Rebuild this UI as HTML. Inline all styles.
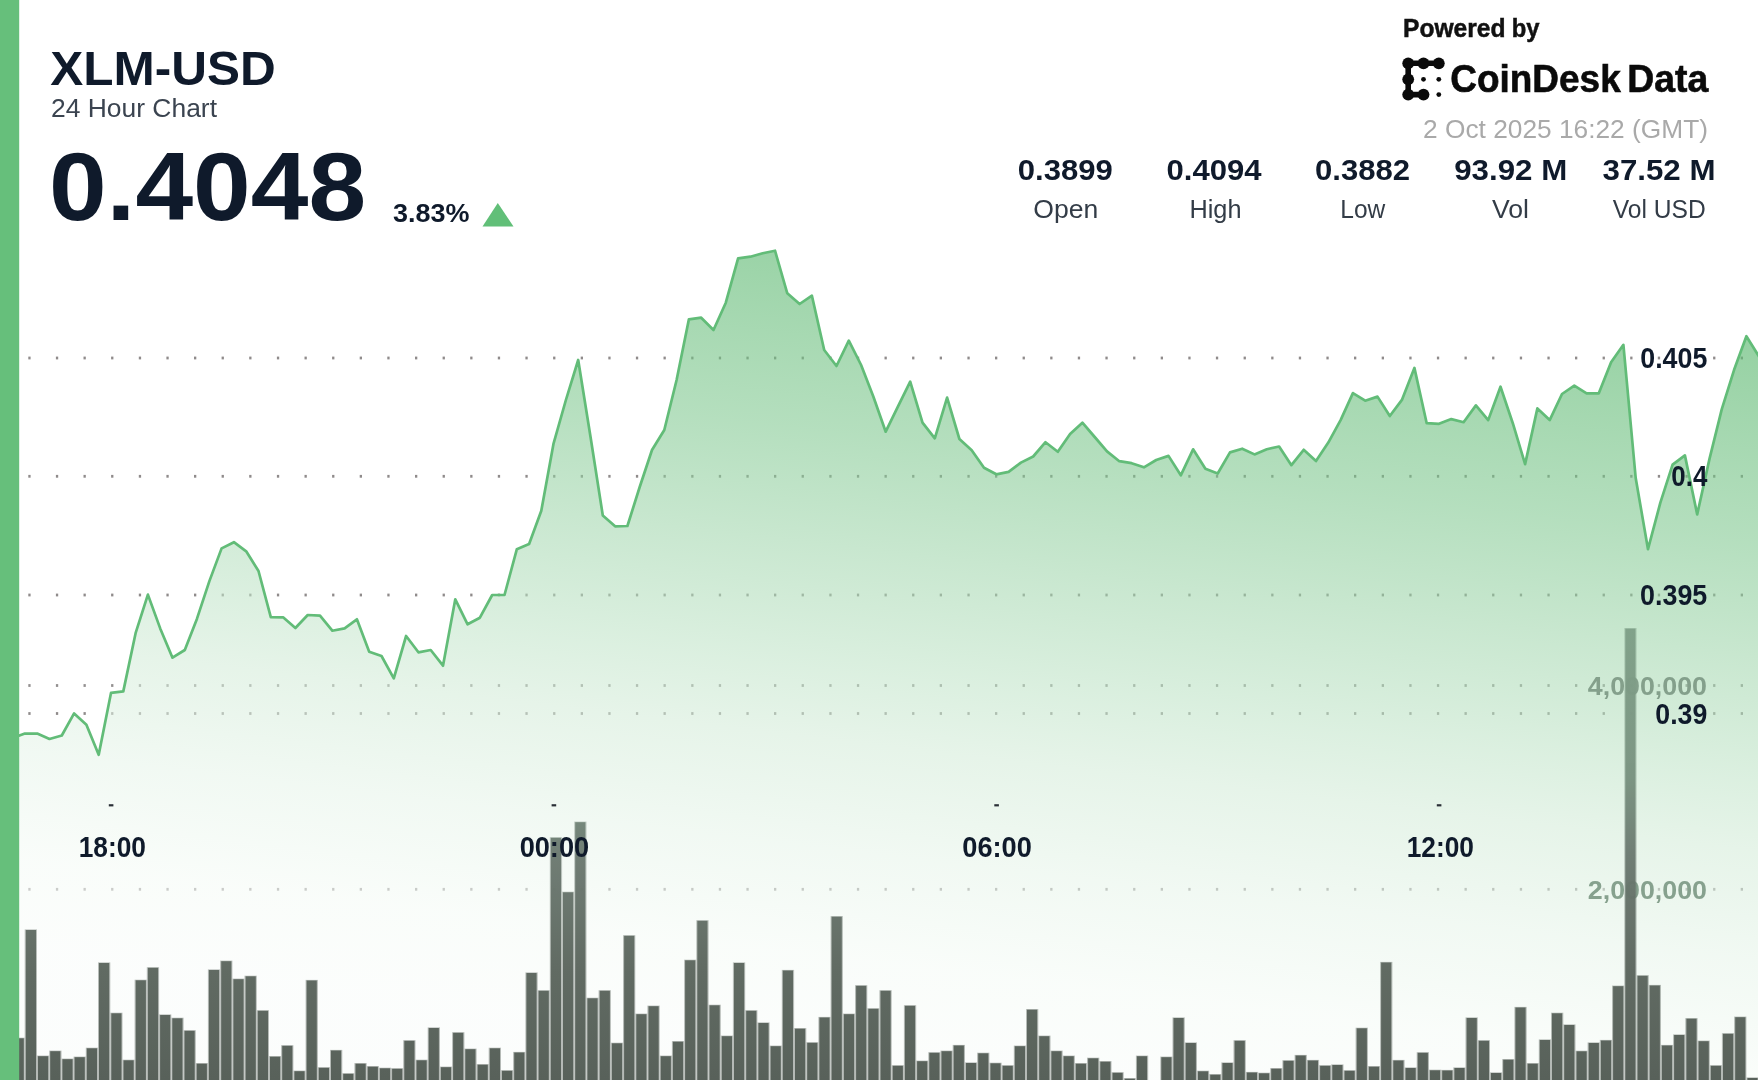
<!DOCTYPE html>
<html lang="en"><head><meta charset="utf-8"><title>XLM-USD 24 Hour Chart</title>
<style>
html,body{margin:0;padding:0;background:#fff;}
body{width:1758px;height:1080px;overflow:hidden;position:relative;font-family:"Liberation Sans","DejaVu Sans",sans-serif;}
svg{position:absolute;left:-20px;top:-20px;display:block;filter:blur(0.75px);}
svg text{font-family:"Liberation Sans","DejaVu Sans",sans-serif;}
</style></head><body>
<svg width="1798" height="1120" viewBox="-20 -20 1798 1120">
<defs>
<linearGradient id="ag" gradientUnits="userSpaceOnUse" x1="1190" y1="250" x2="1090.6" y2="1078.1">
<stop offset="0.000" stop-color="#5cb870" stop-opacity="0.67"/>
<stop offset="0.262" stop-color="#79c58a" stop-opacity="0.56"/>
<stop offset="0.411" stop-color="#9fd5ab" stop-opacity="0.56"/>
<stop offset="0.551" stop-color="#c0e4c8" stop-opacity="0.56"/>
<stop offset="0.631" stop-color="#d2ebd7" stop-opacity="0.56"/>
<stop offset="0.761" stop-color="#e6f4e9" stop-opacity="0.56"/>
<stop offset="0.893" stop-color="#f5fbf6" stop-opacity="0.56"/>
<stop offset="1.000" stop-color="#f9fcfa" stop-opacity="0.56"/>
</linearGradient>
<linearGradient id="bg" gradientUnits="userSpaceOnUse" x1="0" y1="628" x2="0" y2="1080">
<stop offset="0" stop-color="#7fa088"/>
<stop offset="0.33" stop-color="#7a9381"/>
<stop offset="0.5" stop-color="#6d7b72"/>
<stop offset="0.75" stop-color="#5d675f"/>
<stop offset="1" stop-color="#545d56"/>
</linearGradient>
</defs>
<rect x="-20" y="-20" width="1798" height="1120" fill="#fff"/>
<g id="volgrid"><g fill="#939090"><rect x="0.7" y="684.1" width="2.3" height="2.8"/><rect x="28.3" y="684.1" width="2.3" height="2.8"/><rect x="55.9" y="684.1" width="2.3" height="2.8"/><rect x="83.5" y="684.1" width="2.3" height="2.8"/><rect x="111.1" y="684.1" width="2.3" height="2.8"/><rect x="138.8" y="684.1" width="2.3" height="2.8"/><rect x="166.4" y="684.1" width="2.3" height="2.8"/><rect x="194" y="684.1" width="2.3" height="2.8"/><rect x="221.6" y="684.1" width="2.3" height="2.8"/><rect x="249.2" y="684.1" width="2.3" height="2.8"/><rect x="276.9" y="684.1" width="2.3" height="2.8"/><rect x="304.5" y="684.1" width="2.3" height="2.8"/><rect x="332.1" y="684.1" width="2.3" height="2.8"/><rect x="359.7" y="684.1" width="2.3" height="2.8"/><rect x="387.3" y="684.1" width="2.3" height="2.8"/><rect x="415" y="684.1" width="2.3" height="2.8"/><rect x="442.6" y="684.1" width="2.3" height="2.8"/><rect x="470.2" y="684.1" width="2.3" height="2.8"/><rect x="497.8" y="684.1" width="2.3" height="2.8"/><rect x="525.4" y="684.1" width="2.3" height="2.8"/><rect x="553.1" y="684.1" width="2.3" height="2.8"/><rect x="580.7" y="684.1" width="2.3" height="2.8"/><rect x="608.3" y="684.1" width="2.3" height="2.8"/><rect x="635.9" y="684.1" width="2.3" height="2.8"/><rect x="663.5" y="684.1" width="2.3" height="2.8"/><rect x="691.2" y="684.1" width="2.3" height="2.8"/><rect x="718.8" y="684.1" width="2.3" height="2.8"/><rect x="746.4" y="684.1" width="2.3" height="2.8"/><rect x="774" y="684.1" width="2.3" height="2.8"/><rect x="801.6" y="684.1" width="2.3" height="2.8"/><rect x="829.3" y="684.1" width="2.3" height="2.8"/><rect x="856.9" y="684.1" width="2.3" height="2.8"/><rect x="884.5" y="684.1" width="2.3" height="2.8"/><rect x="912.1" y="684.1" width="2.3" height="2.8"/><rect x="939.7" y="684.1" width="2.3" height="2.8"/><rect x="967.4" y="684.1" width="2.3" height="2.8"/><rect x="995" y="684.1" width="2.3" height="2.8"/><rect x="1022.6" y="684.1" width="2.3" height="2.8"/><rect x="1050.2" y="684.1" width="2.3" height="2.8"/><rect x="1077.8" y="684.1" width="2.3" height="2.8"/><rect x="1105.4" y="684.1" width="2.3" height="2.8"/><rect x="1133.1" y="684.1" width="2.3" height="2.8"/><rect x="1160.7" y="684.1" width="2.3" height="2.8"/><rect x="1188.3" y="684.1" width="2.3" height="2.8"/><rect x="1215.9" y="684.1" width="2.3" height="2.8"/><rect x="1243.6" y="684.1" width="2.3" height="2.8"/><rect x="1271.2" y="684.1" width="2.3" height="2.8"/><rect x="1298.8" y="684.1" width="2.3" height="2.8"/><rect x="1326.4" y="684.1" width="2.3" height="2.8"/><rect x="1354" y="684.1" width="2.3" height="2.8"/><rect x="1381.7" y="684.1" width="2.3" height="2.8"/><rect x="1409.3" y="684.1" width="2.3" height="2.8"/><rect x="1436.9" y="684.1" width="2.3" height="2.8"/><rect x="1464.5" y="684.1" width="2.3" height="2.8"/><rect x="1492.1" y="684.1" width="2.3" height="2.8"/><rect x="1519.8" y="684.1" width="2.3" height="2.8"/><rect x="1547.4" y="684.1" width="2.3" height="2.8"/><rect x="1575" y="684.1" width="2.3" height="2.8"/><rect x="1602.6" y="684.1" width="2.3" height="2.8"/><rect x="1630.2" y="684.1" width="2.3" height="2.8"/><rect x="1657.8" y="684.1" width="2.3" height="2.8"/><rect x="1685.5" y="684.1" width="2.3" height="2.8"/><rect x="1713.1" y="684.1" width="2.3" height="2.8"/><rect x="1740.7" y="684.1" width="2.3" height="2.8"/><rect x="1768.3" y="684.1" width="2.3" height="2.8"/></g><g fill="#939090"><rect x="0.7" y="887.9" width="2.3" height="2.8"/><rect x="28.3" y="887.9" width="2.3" height="2.8"/><rect x="55.9" y="887.9" width="2.3" height="2.8"/><rect x="83.5" y="887.9" width="2.3" height="2.8"/><rect x="111.1" y="887.9" width="2.3" height="2.8"/><rect x="138.8" y="887.9" width="2.3" height="2.8"/><rect x="166.4" y="887.9" width="2.3" height="2.8"/><rect x="194" y="887.9" width="2.3" height="2.8"/><rect x="221.6" y="887.9" width="2.3" height="2.8"/><rect x="249.2" y="887.9" width="2.3" height="2.8"/><rect x="276.9" y="887.9" width="2.3" height="2.8"/><rect x="304.5" y="887.9" width="2.3" height="2.8"/><rect x="332.1" y="887.9" width="2.3" height="2.8"/><rect x="359.7" y="887.9" width="2.3" height="2.8"/><rect x="387.3" y="887.9" width="2.3" height="2.8"/><rect x="415" y="887.9" width="2.3" height="2.8"/><rect x="442.6" y="887.9" width="2.3" height="2.8"/><rect x="470.2" y="887.9" width="2.3" height="2.8"/><rect x="497.8" y="887.9" width="2.3" height="2.8"/><rect x="525.4" y="887.9" width="2.3" height="2.8"/><rect x="553.1" y="887.9" width="2.3" height="2.8"/><rect x="580.7" y="887.9" width="2.3" height="2.8"/><rect x="608.3" y="887.9" width="2.3" height="2.8"/><rect x="635.9" y="887.9" width="2.3" height="2.8"/><rect x="663.5" y="887.9" width="2.3" height="2.8"/><rect x="691.2" y="887.9" width="2.3" height="2.8"/><rect x="718.8" y="887.9" width="2.3" height="2.8"/><rect x="746.4" y="887.9" width="2.3" height="2.8"/><rect x="774" y="887.9" width="2.3" height="2.8"/><rect x="801.6" y="887.9" width="2.3" height="2.8"/><rect x="829.3" y="887.9" width="2.3" height="2.8"/><rect x="856.9" y="887.9" width="2.3" height="2.8"/><rect x="884.5" y="887.9" width="2.3" height="2.8"/><rect x="912.1" y="887.9" width="2.3" height="2.8"/><rect x="939.7" y="887.9" width="2.3" height="2.8"/><rect x="967.4" y="887.9" width="2.3" height="2.8"/><rect x="995" y="887.9" width="2.3" height="2.8"/><rect x="1022.6" y="887.9" width="2.3" height="2.8"/><rect x="1050.2" y="887.9" width="2.3" height="2.8"/><rect x="1077.8" y="887.9" width="2.3" height="2.8"/><rect x="1105.4" y="887.9" width="2.3" height="2.8"/><rect x="1133.1" y="887.9" width="2.3" height="2.8"/><rect x="1160.7" y="887.9" width="2.3" height="2.8"/><rect x="1188.3" y="887.9" width="2.3" height="2.8"/><rect x="1215.9" y="887.9" width="2.3" height="2.8"/><rect x="1243.6" y="887.9" width="2.3" height="2.8"/><rect x="1271.2" y="887.9" width="2.3" height="2.8"/><rect x="1298.8" y="887.9" width="2.3" height="2.8"/><rect x="1326.4" y="887.9" width="2.3" height="2.8"/><rect x="1354" y="887.9" width="2.3" height="2.8"/><rect x="1381.7" y="887.9" width="2.3" height="2.8"/><rect x="1409.3" y="887.9" width="2.3" height="2.8"/><rect x="1436.9" y="887.9" width="2.3" height="2.8"/><rect x="1464.5" y="887.9" width="2.3" height="2.8"/><rect x="1492.1" y="887.9" width="2.3" height="2.8"/><rect x="1519.8" y="887.9" width="2.3" height="2.8"/><rect x="1547.4" y="887.9" width="2.3" height="2.8"/><rect x="1575" y="887.9" width="2.3" height="2.8"/><rect x="1602.6" y="887.9" width="2.3" height="2.8"/><rect x="1630.2" y="887.9" width="2.3" height="2.8"/><rect x="1657.8" y="887.9" width="2.3" height="2.8"/><rect x="1685.5" y="887.9" width="2.3" height="2.8"/><rect x="1713.1" y="887.9" width="2.3" height="2.8"/><rect x="1740.7" y="887.9" width="2.3" height="2.8"/><rect x="1768.3" y="887.9" width="2.3" height="2.8"/></g></g>
<g id="pricegrid"><g fill="#8f8b8b"><rect x="0.7" y="356.6" width="2.3" height="2.8"/><rect x="28.3" y="356.6" width="2.3" height="2.8"/><rect x="55.9" y="356.6" width="2.3" height="2.8"/><rect x="83.5" y="356.6" width="2.3" height="2.8"/><rect x="111.1" y="356.6" width="2.3" height="2.8"/><rect x="138.8" y="356.6" width="2.3" height="2.8"/><rect x="166.4" y="356.6" width="2.3" height="2.8"/><rect x="194" y="356.6" width="2.3" height="2.8"/><rect x="221.6" y="356.6" width="2.3" height="2.8"/><rect x="249.2" y="356.6" width="2.3" height="2.8"/><rect x="276.9" y="356.6" width="2.3" height="2.8"/><rect x="304.5" y="356.6" width="2.3" height="2.8"/><rect x="332.1" y="356.6" width="2.3" height="2.8"/><rect x="359.7" y="356.6" width="2.3" height="2.8"/><rect x="387.3" y="356.6" width="2.3" height="2.8"/><rect x="415" y="356.6" width="2.3" height="2.8"/><rect x="442.6" y="356.6" width="2.3" height="2.8"/><rect x="470.2" y="356.6" width="2.3" height="2.8"/><rect x="497.8" y="356.6" width="2.3" height="2.8"/><rect x="525.4" y="356.6" width="2.3" height="2.8"/><rect x="553.1" y="356.6" width="2.3" height="2.8"/><rect x="580.7" y="356.6" width="2.3" height="2.8"/><rect x="608.3" y="356.6" width="2.3" height="2.8"/><rect x="635.9" y="356.6" width="2.3" height="2.8"/><rect x="663.5" y="356.6" width="2.3" height="2.8"/><rect x="691.2" y="356.6" width="2.3" height="2.8"/><rect x="718.8" y="356.6" width="2.3" height="2.8"/><rect x="746.4" y="356.6" width="2.3" height="2.8"/><rect x="774" y="356.6" width="2.3" height="2.8"/><rect x="801.6" y="356.6" width="2.3" height="2.8"/><rect x="829.3" y="356.6" width="2.3" height="2.8"/><rect x="856.9" y="356.6" width="2.3" height="2.8"/><rect x="884.5" y="356.6" width="2.3" height="2.8"/><rect x="912.1" y="356.6" width="2.3" height="2.8"/><rect x="939.7" y="356.6" width="2.3" height="2.8"/><rect x="967.4" y="356.6" width="2.3" height="2.8"/><rect x="995" y="356.6" width="2.3" height="2.8"/><rect x="1022.6" y="356.6" width="2.3" height="2.8"/><rect x="1050.2" y="356.6" width="2.3" height="2.8"/><rect x="1077.8" y="356.6" width="2.3" height="2.8"/><rect x="1105.4" y="356.6" width="2.3" height="2.8"/><rect x="1133.1" y="356.6" width="2.3" height="2.8"/><rect x="1160.7" y="356.6" width="2.3" height="2.8"/><rect x="1188.3" y="356.6" width="2.3" height="2.8"/><rect x="1215.9" y="356.6" width="2.3" height="2.8"/><rect x="1243.6" y="356.6" width="2.3" height="2.8"/><rect x="1271.2" y="356.6" width="2.3" height="2.8"/><rect x="1298.8" y="356.6" width="2.3" height="2.8"/><rect x="1326.4" y="356.6" width="2.3" height="2.8"/><rect x="1354" y="356.6" width="2.3" height="2.8"/><rect x="1381.7" y="356.6" width="2.3" height="2.8"/><rect x="1409.3" y="356.6" width="2.3" height="2.8"/><rect x="1436.9" y="356.6" width="2.3" height="2.8"/><rect x="1464.5" y="356.6" width="2.3" height="2.8"/><rect x="1492.1" y="356.6" width="2.3" height="2.8"/><rect x="1519.8" y="356.6" width="2.3" height="2.8"/><rect x="1547.4" y="356.6" width="2.3" height="2.8"/><rect x="1575" y="356.6" width="2.3" height="2.8"/><rect x="1602.6" y="356.6" width="2.3" height="2.8"/><rect x="1630.2" y="356.6" width="2.3" height="2.8"/><rect x="1657.8" y="356.6" width="2.3" height="2.8"/><rect x="1713.1" y="356.6" width="2.3" height="2.8"/><rect x="1740.7" y="356.6" width="2.3" height="2.8"/><rect x="1768.3" y="356.6" width="2.3" height="2.8"/></g><g fill="#8f8b8b"><rect x="0.7" y="474.9" width="2.3" height="2.8"/><rect x="28.3" y="474.9" width="2.3" height="2.8"/><rect x="55.9" y="474.9" width="2.3" height="2.8"/><rect x="83.5" y="474.9" width="2.3" height="2.8"/><rect x="111.1" y="474.9" width="2.3" height="2.8"/><rect x="138.8" y="474.9" width="2.3" height="2.8"/><rect x="166.4" y="474.9" width="2.3" height="2.8"/><rect x="194" y="474.9" width="2.3" height="2.8"/><rect x="221.6" y="474.9" width="2.3" height="2.8"/><rect x="249.2" y="474.9" width="2.3" height="2.8"/><rect x="276.9" y="474.9" width="2.3" height="2.8"/><rect x="304.5" y="474.9" width="2.3" height="2.8"/><rect x="332.1" y="474.9" width="2.3" height="2.8"/><rect x="359.7" y="474.9" width="2.3" height="2.8"/><rect x="387.3" y="474.9" width="2.3" height="2.8"/><rect x="415" y="474.9" width="2.3" height="2.8"/><rect x="442.6" y="474.9" width="2.3" height="2.8"/><rect x="470.2" y="474.9" width="2.3" height="2.8"/><rect x="497.8" y="474.9" width="2.3" height="2.8"/><rect x="525.4" y="474.9" width="2.3" height="2.8"/><rect x="553.1" y="474.9" width="2.3" height="2.8"/><rect x="580.7" y="474.9" width="2.3" height="2.8"/><rect x="608.3" y="474.9" width="2.3" height="2.8"/><rect x="635.9" y="474.9" width="2.3" height="2.8"/><rect x="663.5" y="474.9" width="2.3" height="2.8"/><rect x="691.2" y="474.9" width="2.3" height="2.8"/><rect x="718.8" y="474.9" width="2.3" height="2.8"/><rect x="746.4" y="474.9" width="2.3" height="2.8"/><rect x="774" y="474.9" width="2.3" height="2.8"/><rect x="801.6" y="474.9" width="2.3" height="2.8"/><rect x="829.3" y="474.9" width="2.3" height="2.8"/><rect x="856.9" y="474.9" width="2.3" height="2.8"/><rect x="884.5" y="474.9" width="2.3" height="2.8"/><rect x="912.1" y="474.9" width="2.3" height="2.8"/><rect x="939.7" y="474.9" width="2.3" height="2.8"/><rect x="967.4" y="474.9" width="2.3" height="2.8"/><rect x="995" y="474.9" width="2.3" height="2.8"/><rect x="1022.6" y="474.9" width="2.3" height="2.8"/><rect x="1050.2" y="474.9" width="2.3" height="2.8"/><rect x="1077.8" y="474.9" width="2.3" height="2.8"/><rect x="1105.4" y="474.9" width="2.3" height="2.8"/><rect x="1133.1" y="474.9" width="2.3" height="2.8"/><rect x="1160.7" y="474.9" width="2.3" height="2.8"/><rect x="1188.3" y="474.9" width="2.3" height="2.8"/><rect x="1215.9" y="474.9" width="2.3" height="2.8"/><rect x="1243.6" y="474.9" width="2.3" height="2.8"/><rect x="1271.2" y="474.9" width="2.3" height="2.8"/><rect x="1298.8" y="474.9" width="2.3" height="2.8"/><rect x="1326.4" y="474.9" width="2.3" height="2.8"/><rect x="1354" y="474.9" width="2.3" height="2.8"/><rect x="1381.7" y="474.9" width="2.3" height="2.8"/><rect x="1409.3" y="474.9" width="2.3" height="2.8"/><rect x="1436.9" y="474.9" width="2.3" height="2.8"/><rect x="1464.5" y="474.9" width="2.3" height="2.8"/><rect x="1492.1" y="474.9" width="2.3" height="2.8"/><rect x="1519.8" y="474.9" width="2.3" height="2.8"/><rect x="1547.4" y="474.9" width="2.3" height="2.8"/><rect x="1575" y="474.9" width="2.3" height="2.8"/><rect x="1602.6" y="474.9" width="2.3" height="2.8"/><rect x="1630.2" y="474.9" width="2.3" height="2.8"/><rect x="1657.8" y="474.9" width="2.3" height="2.8"/><rect x="1685.5" y="474.9" width="2.3" height="2.8"/><rect x="1713.1" y="474.9" width="2.3" height="2.8"/><rect x="1740.7" y="474.9" width="2.3" height="2.8"/><rect x="1768.3" y="474.9" width="2.3" height="2.8"/></g><g fill="#8f8b8b"><rect x="0.7" y="593.6" width="2.3" height="2.8"/><rect x="28.3" y="593.6" width="2.3" height="2.8"/><rect x="55.9" y="593.6" width="2.3" height="2.8"/><rect x="83.5" y="593.6" width="2.3" height="2.8"/><rect x="111.1" y="593.6" width="2.3" height="2.8"/><rect x="138.8" y="593.6" width="2.3" height="2.8"/><rect x="166.4" y="593.6" width="2.3" height="2.8"/><rect x="194" y="593.6" width="2.3" height="2.8"/><rect x="221.6" y="593.6" width="2.3" height="2.8"/><rect x="249.2" y="593.6" width="2.3" height="2.8"/><rect x="276.9" y="593.6" width="2.3" height="2.8"/><rect x="304.5" y="593.6" width="2.3" height="2.8"/><rect x="332.1" y="593.6" width="2.3" height="2.8"/><rect x="359.7" y="593.6" width="2.3" height="2.8"/><rect x="387.3" y="593.6" width="2.3" height="2.8"/><rect x="415" y="593.6" width="2.3" height="2.8"/><rect x="442.6" y="593.6" width="2.3" height="2.8"/><rect x="470.2" y="593.6" width="2.3" height="2.8"/><rect x="497.8" y="593.6" width="2.3" height="2.8"/><rect x="525.4" y="593.6" width="2.3" height="2.8"/><rect x="553.1" y="593.6" width="2.3" height="2.8"/><rect x="580.7" y="593.6" width="2.3" height="2.8"/><rect x="608.3" y="593.6" width="2.3" height="2.8"/><rect x="635.9" y="593.6" width="2.3" height="2.8"/><rect x="663.5" y="593.6" width="2.3" height="2.8"/><rect x="691.2" y="593.6" width="2.3" height="2.8"/><rect x="718.8" y="593.6" width="2.3" height="2.8"/><rect x="746.4" y="593.6" width="2.3" height="2.8"/><rect x="774" y="593.6" width="2.3" height="2.8"/><rect x="801.6" y="593.6" width="2.3" height="2.8"/><rect x="829.3" y="593.6" width="2.3" height="2.8"/><rect x="856.9" y="593.6" width="2.3" height="2.8"/><rect x="884.5" y="593.6" width="2.3" height="2.8"/><rect x="912.1" y="593.6" width="2.3" height="2.8"/><rect x="939.7" y="593.6" width="2.3" height="2.8"/><rect x="967.4" y="593.6" width="2.3" height="2.8"/><rect x="995" y="593.6" width="2.3" height="2.8"/><rect x="1022.6" y="593.6" width="2.3" height="2.8"/><rect x="1050.2" y="593.6" width="2.3" height="2.8"/><rect x="1077.8" y="593.6" width="2.3" height="2.8"/><rect x="1105.4" y="593.6" width="2.3" height="2.8"/><rect x="1133.1" y="593.6" width="2.3" height="2.8"/><rect x="1160.7" y="593.6" width="2.3" height="2.8"/><rect x="1188.3" y="593.6" width="2.3" height="2.8"/><rect x="1215.9" y="593.6" width="2.3" height="2.8"/><rect x="1243.6" y="593.6" width="2.3" height="2.8"/><rect x="1271.2" y="593.6" width="2.3" height="2.8"/><rect x="1298.8" y="593.6" width="2.3" height="2.8"/><rect x="1326.4" y="593.6" width="2.3" height="2.8"/><rect x="1354" y="593.6" width="2.3" height="2.8"/><rect x="1381.7" y="593.6" width="2.3" height="2.8"/><rect x="1409.3" y="593.6" width="2.3" height="2.8"/><rect x="1436.9" y="593.6" width="2.3" height="2.8"/><rect x="1464.5" y="593.6" width="2.3" height="2.8"/><rect x="1492.1" y="593.6" width="2.3" height="2.8"/><rect x="1519.8" y="593.6" width="2.3" height="2.8"/><rect x="1547.4" y="593.6" width="2.3" height="2.8"/><rect x="1575" y="593.6" width="2.3" height="2.8"/><rect x="1602.6" y="593.6" width="2.3" height="2.8"/><rect x="1630.2" y="593.6" width="2.3" height="2.8"/><rect x="1657.8" y="593.6" width="2.3" height="2.8"/><rect x="1713.1" y="593.6" width="2.3" height="2.8"/><rect x="1740.7" y="593.6" width="2.3" height="2.8"/><rect x="1768.3" y="593.6" width="2.3" height="2.8"/></g><g fill="#8f8b8b"><rect x="0.7" y="712.1" width="2.3" height="2.8"/><rect x="28.3" y="712.1" width="2.3" height="2.8"/><rect x="55.9" y="712.1" width="2.3" height="2.8"/><rect x="83.5" y="712.1" width="2.3" height="2.8"/><rect x="111.1" y="712.1" width="2.3" height="2.8"/><rect x="138.8" y="712.1" width="2.3" height="2.8"/><rect x="166.4" y="712.1" width="2.3" height="2.8"/><rect x="194" y="712.1" width="2.3" height="2.8"/><rect x="221.6" y="712.1" width="2.3" height="2.8"/><rect x="249.2" y="712.1" width="2.3" height="2.8"/><rect x="276.9" y="712.1" width="2.3" height="2.8"/><rect x="304.5" y="712.1" width="2.3" height="2.8"/><rect x="332.1" y="712.1" width="2.3" height="2.8"/><rect x="359.7" y="712.1" width="2.3" height="2.8"/><rect x="387.3" y="712.1" width="2.3" height="2.8"/><rect x="415" y="712.1" width="2.3" height="2.8"/><rect x="442.6" y="712.1" width="2.3" height="2.8"/><rect x="470.2" y="712.1" width="2.3" height="2.8"/><rect x="497.8" y="712.1" width="2.3" height="2.8"/><rect x="525.4" y="712.1" width="2.3" height="2.8"/><rect x="553.1" y="712.1" width="2.3" height="2.8"/><rect x="580.7" y="712.1" width="2.3" height="2.8"/><rect x="608.3" y="712.1" width="2.3" height="2.8"/><rect x="635.9" y="712.1" width="2.3" height="2.8"/><rect x="663.5" y="712.1" width="2.3" height="2.8"/><rect x="691.2" y="712.1" width="2.3" height="2.8"/><rect x="718.8" y="712.1" width="2.3" height="2.8"/><rect x="746.4" y="712.1" width="2.3" height="2.8"/><rect x="774" y="712.1" width="2.3" height="2.8"/><rect x="801.6" y="712.1" width="2.3" height="2.8"/><rect x="829.3" y="712.1" width="2.3" height="2.8"/><rect x="856.9" y="712.1" width="2.3" height="2.8"/><rect x="884.5" y="712.1" width="2.3" height="2.8"/><rect x="912.1" y="712.1" width="2.3" height="2.8"/><rect x="939.7" y="712.1" width="2.3" height="2.8"/><rect x="967.4" y="712.1" width="2.3" height="2.8"/><rect x="995" y="712.1" width="2.3" height="2.8"/><rect x="1022.6" y="712.1" width="2.3" height="2.8"/><rect x="1050.2" y="712.1" width="2.3" height="2.8"/><rect x="1077.8" y="712.1" width="2.3" height="2.8"/><rect x="1105.4" y="712.1" width="2.3" height="2.8"/><rect x="1133.1" y="712.1" width="2.3" height="2.8"/><rect x="1160.7" y="712.1" width="2.3" height="2.8"/><rect x="1188.3" y="712.1" width="2.3" height="2.8"/><rect x="1215.9" y="712.1" width="2.3" height="2.8"/><rect x="1243.6" y="712.1" width="2.3" height="2.8"/><rect x="1271.2" y="712.1" width="2.3" height="2.8"/><rect x="1298.8" y="712.1" width="2.3" height="2.8"/><rect x="1326.4" y="712.1" width="2.3" height="2.8"/><rect x="1354" y="712.1" width="2.3" height="2.8"/><rect x="1381.7" y="712.1" width="2.3" height="2.8"/><rect x="1409.3" y="712.1" width="2.3" height="2.8"/><rect x="1436.9" y="712.1" width="2.3" height="2.8"/><rect x="1464.5" y="712.1" width="2.3" height="2.8"/><rect x="1492.1" y="712.1" width="2.3" height="2.8"/><rect x="1519.8" y="712.1" width="2.3" height="2.8"/><rect x="1547.4" y="712.1" width="2.3" height="2.8"/><rect x="1575" y="712.1" width="2.3" height="2.8"/><rect x="1602.6" y="712.1" width="2.3" height="2.8"/><rect x="1630.2" y="712.1" width="2.3" height="2.8"/><rect x="1713.1" y="712.1" width="2.3" height="2.8"/><rect x="1740.7" y="712.1" width="2.3" height="2.8"/><rect x="1768.3" y="712.1" width="2.3" height="2.8"/></g></g>
<path id="area" d="M12.6 738 L24.9 733.6 L37.2 733.6 L49.5 739 L61.8 735.5 L74.1 713.4 L86.4 724.7 L98.7 754.8 L111 692.9 L123.3 691.4 L135.6 633.2 L147.9 594.6 L160.2 628.4 L172.5 657.7 L184.8 650 L197 618.7 L209.3 581.4 L221.6 548.4 L233.9 542.2 L246.2 551.3 L258.5 571 L270.8 617.2 L283.1 617.3 L295.4 628 L307.7 615 L320 615.7 L332.3 630.7 L344.6 628.3 L356.9 619.3 L369.2 651.7 L381.5 656 L393.8 678.3 L406.1 636 L418.4 652.3 L430.7 650 L443 665.7 L455.3 599.3 L467.6 624.3 L479.9 617.7 L492.2 595 L504.5 595 L516.8 549.3 L529.1 544 L541.3 510.7 L553.6 443.3 L565.9 400 L578.2 360 L590.5 436.7 L602.8 515.5 L615.1 526.3 L627.4 526 L639.7 487 L652 450 L664.3 430 L676.6 380 L688.9 319.3 L701.2 317.7 L713.5 330 L725.8 302.7 L738.1 258.3 L750.4 256.7 L762.7 253.3 L775 250.7 L787.3 293.3 L799.6 304 L811.9 295.7 L824.2 350 L836.5 366 L848.8 340.7 L861.1 365 L873.4 396.7 L885.7 431.7 L897.9 406.7 L910.2 381.7 L922.5 422.7 L934.8 438.3 L947.1 397.6 L959.4 439 L971.7 450.3 L984 467.8 L996.3 474.3 L1008.6 471.9 L1020.9 462.6 L1033.2 456.5 L1045.5 442.2 L1057.8 451.8 L1070.1 434 L1082.4 422.7 L1094.7 437 L1107 451.4 L1119.3 461.2 L1131.6 463.2 L1143.9 467.3 L1156.2 460 L1168.5 455.9 L1180.8 475.3 L1193.1 449.3 L1205.4 468.8 L1217.7 473.5 L1230 452.4 L1242.2 448.7 L1254.5 454.4 L1266.8 449.3 L1279.1 446.5 L1291.4 465.2 L1303.7 449.8 L1316 461 L1328.3 442.6 L1340.6 420.1 L1352.9 393.1 L1365.2 400.7 L1377.5 396.6 L1389.8 416 L1402.1 399.6 L1414.4 367.9 L1426.7 423.2 L1439 423.8 L1451.3 419.1 L1463.6 422.2 L1475.9 405.4 L1488.2 420.1 L1500.5 386.7 L1512.8 423.2 L1525.1 464.1 L1537.4 408.4 L1549.7 420.1 L1562 394 L1574.3 385.6 L1586.6 393.3 L1598.8 393.3 L1611.1 362.3 L1623.4 344.8 L1635.7 478 L1648 549.2 L1660.3 502.9 L1672.6 464.7 L1684.9 455.4 L1697.2 514.4 L1709.5 458.9 L1721.8 409.1 L1734.1 369.8 L1746.4 336.2 L1758.7 356 L1771 375.8 L1771 1110 L12.6 1110 Z" fill="url(#ag)"/>
<g id="vollabels" opacity="0.9"><text x="1707" y="694.9" font-size="26.4" font-weight="bold" fill="#7c9884" text-anchor="end" textLength="119.2" lengthAdjust="spacingAndGlyphs">4,000,000</text><text x="1707" y="898.7" font-size="26.4" font-weight="bold" fill="#7c9884" text-anchor="end" textLength="119.2" lengthAdjust="spacingAndGlyphs">2,000,000</text></g>
<g id="barhalo" fill="url(#bg)" opacity="0.42"><rect x="1746.4" y="1077.4" width="12.3" height="32"/><rect x="1734.1" y="1016.6" width="12.3" height="92.8"/><rect x="1721.9" y="1033.2" width="12.3" height="76.2"/><rect x="1709.7" y="1065.2" width="12.3" height="44.2"/><rect x="1697.5" y="1040.6" width="12.3" height="68.8"/><rect x="1685.3" y="1018.1" width="12.3" height="91.3"/><rect x="1673.1" y="1034.4" width="12.3" height="75"/><rect x="1660.9" y="1044.9" width="12.3" height="64.5"/><rect x="1648.7" y="984.9" width="12.3" height="124.5"/><rect x="1636.5" y="975.2" width="12.3" height="134.2"/><rect x="1624.3" y="628" width="12.3" height="481.4"/><rect x="1612" y="985.6" width="12.3" height="123.8"/><rect x="1599.8" y="1039.9" width="12.3" height="69.5"/><rect x="1587.6" y="1042.4" width="12.3" height="67"/><rect x="1575.4" y="1050.7" width="12.3" height="58.7"/><rect x="1563.2" y="1024.4" width="12.3" height="85"/><rect x="1551" y="1012.7" width="12.3" height="96.7"/><rect x="1538.8" y="1039.4" width="12.3" height="70"/><rect x="1526.6" y="1063.1" width="12.3" height="46.3"/><rect x="1514.4" y="1006.9" width="12.3" height="102.5"/><rect x="1502.2" y="1059.1" width="12.3" height="50.3"/><rect x="1489.9" y="1072.4" width="12.3" height="37"/><rect x="1477.7" y="1040.2" width="12.3" height="69.2"/><rect x="1465.5" y="1017.4" width="12.3" height="92"/><rect x="1453.3" y="1067.4" width="12.3" height="42"/><rect x="1441.1" y="1069.9" width="12.3" height="39.5"/><rect x="1428.9" y="1069.7" width="12.3" height="39.7"/><rect x="1416.7" y="1052.2" width="12.3" height="57.2"/><rect x="1404.5" y="1067.4" width="12.3" height="42"/><rect x="1392.3" y="1059.9" width="12.3" height="49.5"/><rect x="1380.1" y="961.9" width="12.3" height="147.5"/><rect x="1367.8" y="1066.1" width="12.3" height="43.3"/><rect x="1355.6" y="1027.7" width="12.3" height="81.7"/><rect x="1343.4" y="1070.2" width="12.3" height="39.2"/><rect x="1331.2" y="1064.4" width="12.3" height="45"/><rect x="1319" y="1065.2" width="12.3" height="44.2"/><rect x="1306.8" y="1059.9" width="12.3" height="49.5"/><rect x="1294.6" y="1054.9" width="12.3" height="54.5"/><rect x="1282.4" y="1060.2" width="12.3" height="49.2"/><rect x="1270.2" y="1068.1" width="12.3" height="41.3"/><rect x="1258" y="1072.7" width="12.3" height="36.7"/><rect x="1245.7" y="1071.9" width="12.3" height="37.5"/><rect x="1233.5" y="1040.2" width="12.3" height="69.2"/><rect x="1221.3" y="1062.4" width="12.3" height="47"/><rect x="1209.1" y="1074.1" width="12.3" height="35.3"/><rect x="1196.9" y="1070.7" width="12.3" height="38.7"/><rect x="1184.7" y="1042.4" width="12.3" height="67"/><rect x="1172.5" y="1017.4" width="12.3" height="92"/><rect x="1160.3" y="1056.6" width="12.3" height="52.8"/><rect x="1135.9" y="1055.6" width="12.3" height="53.8"/><rect x="1123.6" y="1078.1" width="12.3" height="31.3"/><rect x="1111.4" y="1072.2" width="12.3" height="37.2"/><rect x="1099.2" y="1061.1" width="12.3" height="48.3"/><rect x="1087" y="1057.7" width="12.3" height="51.7"/><rect x="1074.8" y="1063.1" width="12.3" height="46.3"/><rect x="1062.6" y="1055.6" width="12.3" height="53.8"/><rect x="1050.4" y="1050.6" width="12.3" height="58.8"/><rect x="1038.2" y="1035.6" width="12.3" height="73.8"/><rect x="1026" y="1009.1" width="12.3" height="100.3"/><rect x="1013.8" y="1045.6" width="12.3" height="63.8"/><rect x="1001.5" y="1065.2" width="12.3" height="44.2"/><rect x="989.3" y="1062.7" width="12.3" height="46.7"/><rect x="977.1" y="1052.7" width="12.3" height="56.7"/><rect x="964.9" y="1062.4" width="12.3" height="47"/><rect x="952.7" y="1044.9" width="12.3" height="64.5"/><rect x="940.5" y="1050.6" width="12.3" height="58.8"/><rect x="928.3" y="1052.2" width="12.3" height="57.2"/><rect x="916.1" y="1060.6" width="12.3" height="48.8"/><rect x="903.9" y="1005.2" width="12.3" height="104.2"/><rect x="891.6" y="1065.2" width="12.3" height="44.2"/><rect x="879.4" y="990.2" width="12.3" height="119.2"/><rect x="867.2" y="1008.2" width="12.3" height="101.2"/><rect x="855" y="985.2" width="12.3" height="124.2"/><rect x="842.8" y="1013.6" width="12.3" height="95.8"/><rect x="830.6" y="916.1" width="12.3" height="193.3"/><rect x="818.4" y="1016.9" width="12.3" height="92.5"/><rect x="806.2" y="1042.2" width="12.3" height="67.2"/><rect x="794" y="1028.1" width="12.3" height="81.3"/><rect x="781.8" y="969.9" width="12.3" height="139.5"/><rect x="769.5" y="1045.6" width="12.3" height="63.8"/><rect x="757.3" y="1022.4" width="12.3" height="87"/><rect x="745.1" y="1010.2" width="12.3" height="99.2"/><rect x="732.9" y="962.4" width="12.3" height="147"/><rect x="720.7" y="1035.6" width="12.3" height="73.8"/><rect x="708.5" y="1004.7" width="12.3" height="104.7"/><rect x="696.3" y="920.2" width="12.3" height="189.2"/><rect x="684.1" y="959.7" width="12.3" height="149.7"/><rect x="671.9" y="1041.1" width="12.3" height="68.3"/><rect x="659.7" y="1055.6" width="12.3" height="53.8"/><rect x="647.4" y="1005.6" width="12.3" height="103.8"/><rect x="635.2" y="1013.6" width="12.3" height="95.8"/><rect x="623" y="935.2" width="12.3" height="174.2"/><rect x="610.8" y="1042.7" width="12.3" height="66.7"/><rect x="598.6" y="990.2" width="12.3" height="119.2"/><rect x="586.4" y="997.7" width="12.3" height="111.7"/><rect x="574.2" y="821.6" width="12.3" height="287.8"/><rect x="562" y="891.7" width="12.3" height="217.7"/><rect x="549.8" y="837.2" width="12.3" height="272.2"/><rect x="537.6" y="990.2" width="12.3" height="119.2"/><rect x="525.4" y="972.4" width="12.3" height="137"/><rect x="513.1" y="1051.9" width="12.3" height="57.5"/><rect x="500.9" y="1070.2" width="12.3" height="39.2"/><rect x="488.7" y="1047.7" width="12.3" height="61.7"/><rect x="476.5" y="1064.1" width="12.3" height="45.3"/><rect x="464.3" y="1048.6" width="12.3" height="60.8"/><rect x="452.1" y="1032.2" width="12.3" height="77.2"/><rect x="439.9" y="1066.6" width="12.3" height="42.8"/><rect x="427.7" y="1027.4" width="12.3" height="82"/><rect x="415.5" y="1059.7" width="12.3" height="49.7"/><rect x="403.2" y="1040.2" width="12.3" height="69.2"/><rect x="391" y="1068.2" width="12.3" height="41.2"/><rect x="378.8" y="1067.7" width="12.3" height="41.7"/><rect x="366.6" y="1066.1" width="12.3" height="43.3"/><rect x="354.4" y="1063.1" width="12.3" height="46.3"/><rect x="342.2" y="1073.2" width="12.3" height="36.2"/><rect x="330" y="1049.9" width="12.3" height="59.5"/><rect x="317.8" y="1067.2" width="12.3" height="42.2"/><rect x="305.6" y="979.9" width="12.3" height="129.5"/><rect x="293.4" y="1070.6" width="12.3" height="38.8"/><rect x="281.1" y="1045.2" width="12.3" height="64.2"/><rect x="268.9" y="1056.1" width="12.3" height="53.3"/><rect x="256.7" y="1010.2" width="12.3" height="99.2"/><rect x="244.5" y="975.7" width="12.3" height="133.7"/><rect x="232.3" y="978.6" width="12.3" height="130.8"/><rect x="220.1" y="960.6" width="12.3" height="148.8"/><rect x="207.9" y="969.4" width="12.3" height="140"/><rect x="195.7" y="1063.1" width="12.3" height="46.3"/><rect x="183.5" y="1030.2" width="12.3" height="79.2"/><rect x="171.3" y="1017.7" width="12.3" height="91.7"/><rect x="159" y="1014.4" width="12.3" height="95"/><rect x="146.8" y="967.2" width="12.3" height="142.2"/><rect x="134.6" y="979.7" width="12.3" height="129.7"/><rect x="122.4" y="1059.7" width="12.3" height="49.7"/><rect x="110.2" y="1012.7" width="12.3" height="96.7"/><rect x="98" y="962.4" width="12.3" height="147"/><rect x="85.8" y="1047.7" width="12.3" height="61.7"/><rect x="73.6" y="1056.6" width="12.3" height="52.8"/><rect x="61.4" y="1058.6" width="12.3" height="50.8"/><rect x="49.2" y="1050.6" width="12.3" height="58.8"/><rect x="36.9" y="1055.6" width="12.3" height="53.8"/><rect x="24.7" y="929.4" width="12.3" height="180"/><rect x="12.5" y="1037.7" width="12.3" height="71.7"/></g>
<g id="bars" fill="url(#bg)" opacity="0.95"><rect x="1747.4" y="1078" width="10.2" height="32"/><rect x="1735.2" y="1017.2" width="10.2" height="92.8"/><rect x="1723" y="1033.8" width="10.2" height="76.2"/><rect x="1710.8" y="1065.8" width="10.2" height="44.2"/><rect x="1698.6" y="1041.2" width="10.2" height="68.8"/><rect x="1686.4" y="1018.7" width="10.2" height="91.3"/><rect x="1674.1" y="1035" width="10.2" height="75"/><rect x="1661.9" y="1045.5" width="10.2" height="64.5"/><rect x="1649.7" y="985.5" width="10.2" height="124.5"/><rect x="1637.5" y="975.8" width="10.2" height="134.2"/><rect x="1625.3" y="628.6" width="10.2" height="481.4"/><rect x="1613.1" y="986.2" width="10.2" height="123.8"/><rect x="1600.9" y="1040.5" width="10.2" height="69.5"/><rect x="1588.7" y="1043" width="10.2" height="67"/><rect x="1576.5" y="1051.3" width="10.2" height="58.7"/><rect x="1564.2" y="1025" width="10.2" height="85"/><rect x="1552" y="1013.3" width="10.2" height="96.7"/><rect x="1539.8" y="1040" width="10.2" height="70"/><rect x="1527.6" y="1063.7" width="10.2" height="46.3"/><rect x="1515.4" y="1007.5" width="10.2" height="102.5"/><rect x="1503.2" y="1059.7" width="10.2" height="50.3"/><rect x="1491" y="1073" width="10.2" height="37"/><rect x="1478.8" y="1040.8" width="10.2" height="69.2"/><rect x="1466.6" y="1018" width="10.2" height="92"/><rect x="1454.4" y="1068" width="10.2" height="42"/><rect x="1442.2" y="1070.5" width="10.2" height="39.5"/><rect x="1429.9" y="1070.3" width="10.2" height="39.7"/><rect x="1417.7" y="1052.8" width="10.2" height="57.2"/><rect x="1405.5" y="1068" width="10.2" height="42"/><rect x="1393.3" y="1060.5" width="10.2" height="49.5"/><rect x="1381.1" y="962.5" width="10.2" height="147.5"/><rect x="1368.9" y="1066.7" width="10.2" height="43.3"/><rect x="1356.7" y="1028.3" width="10.2" height="81.7"/><rect x="1344.5" y="1070.8" width="10.2" height="39.2"/><rect x="1332.3" y="1065" width="10.2" height="45"/><rect x="1320.1" y="1065.8" width="10.2" height="44.2"/><rect x="1307.8" y="1060.5" width="10.2" height="49.5"/><rect x="1295.6" y="1055.5" width="10.2" height="54.5"/><rect x="1283.4" y="1060.8" width="10.2" height="49.2"/><rect x="1271.2" y="1068.7" width="10.2" height="41.3"/><rect x="1259" y="1073.3" width="10.2" height="36.7"/><rect x="1246.8" y="1072.5" width="10.2" height="37.5"/><rect x="1234.6" y="1040.8" width="10.2" height="69.2"/><rect x="1222.4" y="1063" width="10.2" height="47"/><rect x="1210.2" y="1074.7" width="10.2" height="35.3"/><rect x="1198" y="1071.3" width="10.2" height="38.7"/><rect x="1185.7" y="1043" width="10.2" height="67"/><rect x="1173.5" y="1018" width="10.2" height="92"/><rect x="1161.3" y="1057.2" width="10.2" height="52.8"/><rect x="1136.9" y="1056.2" width="10.2" height="53.8"/><rect x="1124.7" y="1078.7" width="10.2" height="31.3"/><rect x="1112.5" y="1072.8" width="10.2" height="37.2"/><rect x="1100.3" y="1061.7" width="10.2" height="48.3"/><rect x="1088.1" y="1058.3" width="10.2" height="51.7"/><rect x="1075.8" y="1063.7" width="10.2" height="46.3"/><rect x="1063.6" y="1056.2" width="10.2" height="53.8"/><rect x="1051.4" y="1051.2" width="10.2" height="58.8"/><rect x="1039.2" y="1036.2" width="10.2" height="73.8"/><rect x="1027" y="1009.7" width="10.2" height="100.3"/><rect x="1014.8" y="1046.2" width="10.2" height="63.8"/><rect x="1002.6" y="1065.8" width="10.2" height="44.2"/><rect x="990.4" y="1063.3" width="10.2" height="46.7"/><rect x="978.2" y="1053.3" width="10.2" height="56.7"/><rect x="966" y="1063" width="10.2" height="47"/><rect x="953.7" y="1045.5" width="10.2" height="64.5"/><rect x="941.5" y="1051.2" width="10.2" height="58.8"/><rect x="929.3" y="1052.8" width="10.2" height="57.2"/><rect x="917.1" y="1061.2" width="10.2" height="48.8"/><rect x="904.9" y="1005.8" width="10.2" height="104.2"/><rect x="892.7" y="1065.8" width="10.2" height="44.2"/><rect x="880.5" y="990.8" width="10.2" height="119.2"/><rect x="868.3" y="1008.8" width="10.2" height="101.2"/><rect x="856.1" y="985.8" width="10.2" height="124.2"/><rect x="843.9" y="1014.2" width="10.2" height="95.8"/><rect x="831.6" y="916.7" width="10.2" height="193.3"/><rect x="819.4" y="1017.5" width="10.2" height="92.5"/><rect x="807.2" y="1042.8" width="10.2" height="67.2"/><rect x="795" y="1028.7" width="10.2" height="81.3"/><rect x="782.8" y="970.5" width="10.2" height="139.5"/><rect x="770.6" y="1046.2" width="10.2" height="63.8"/><rect x="758.4" y="1023" width="10.2" height="87"/><rect x="746.2" y="1010.8" width="10.2" height="99.2"/><rect x="734" y="963" width="10.2" height="147"/><rect x="721.8" y="1036.2" width="10.2" height="73.8"/><rect x="709.5" y="1005.3" width="10.2" height="104.7"/><rect x="697.3" y="920.8" width="10.2" height="189.2"/><rect x="685.1" y="960.3" width="10.2" height="149.7"/><rect x="672.9" y="1041.7" width="10.2" height="68.3"/><rect x="660.7" y="1056.2" width="10.2" height="53.8"/><rect x="648.5" y="1006.2" width="10.2" height="103.8"/><rect x="636.3" y="1014.2" width="10.2" height="95.8"/><rect x="624.1" y="935.8" width="10.2" height="174.2"/><rect x="611.9" y="1043.3" width="10.2" height="66.7"/><rect x="599.7" y="990.8" width="10.2" height="119.2"/><rect x="587.4" y="998.3" width="10.2" height="111.7"/><rect x="575.2" y="822.2" width="10.2" height="287.8"/><rect x="563" y="892.3" width="10.2" height="217.7"/><rect x="550.8" y="837.8" width="10.2" height="272.2"/><rect x="538.6" y="990.8" width="10.2" height="119.2"/><rect x="526.4" y="973" width="10.2" height="137"/><rect x="514.2" y="1052.5" width="10.2" height="57.5"/><rect x="502" y="1070.8" width="10.2" height="39.2"/><rect x="489.8" y="1048.3" width="10.2" height="61.7"/><rect x="477.6" y="1064.7" width="10.2" height="45.3"/><rect x="465.3" y="1049.2" width="10.2" height="60.8"/><rect x="453.1" y="1032.8" width="10.2" height="77.2"/><rect x="440.9" y="1067.2" width="10.2" height="42.8"/><rect x="428.7" y="1028" width="10.2" height="82"/><rect x="416.5" y="1060.3" width="10.2" height="49.7"/><rect x="404.3" y="1040.8" width="10.2" height="69.2"/><rect x="392.1" y="1068.8" width="10.2" height="41.2"/><rect x="379.9" y="1068.3" width="10.2" height="41.7"/><rect x="367.7" y="1066.7" width="10.2" height="43.3"/><rect x="355.5" y="1063.7" width="10.2" height="46.3"/><rect x="343.2" y="1073.8" width="10.2" height="36.2"/><rect x="331" y="1050.5" width="10.2" height="59.5"/><rect x="318.8" y="1067.8" width="10.2" height="42.2"/><rect x="306.6" y="980.5" width="10.2" height="129.5"/><rect x="294.4" y="1071.2" width="10.2" height="38.8"/><rect x="282.2" y="1045.8" width="10.2" height="64.2"/><rect x="270" y="1056.7" width="10.2" height="53.3"/><rect x="257.8" y="1010.8" width="10.2" height="99.2"/><rect x="245.6" y="976.3" width="10.2" height="133.7"/><rect x="233.4" y="979.2" width="10.2" height="130.8"/><rect x="221.2" y="961.2" width="10.2" height="148.8"/><rect x="208.9" y="970" width="10.2" height="140"/><rect x="196.7" y="1063.7" width="10.2" height="46.3"/><rect x="184.5" y="1030.8" width="10.2" height="79.2"/><rect x="172.3" y="1018.3" width="10.2" height="91.7"/><rect x="160.1" y="1015" width="10.2" height="95"/><rect x="147.9" y="967.8" width="10.2" height="142.2"/><rect x="135.7" y="980.3" width="10.2" height="129.7"/><rect x="123.5" y="1060.3" width="10.2" height="49.7"/><rect x="111.3" y="1013.3" width="10.2" height="96.7"/><rect x="99" y="963" width="10.2" height="147"/><rect x="86.8" y="1048.3" width="10.2" height="61.7"/><rect x="74.6" y="1057.2" width="10.2" height="52.8"/><rect x="62.4" y="1059.2" width="10.2" height="50.8"/><rect x="50.2" y="1051.2" width="10.2" height="58.8"/><rect x="38" y="1056.2" width="10.2" height="53.8"/><rect x="25.8" y="930" width="10.2" height="180"/><rect x="13.6" y="1038.3" width="10.2" height="71.7"/></g>
<path id="line" d="M12.6 738 L24.9 733.6 L37.2 733.6 L49.5 739 L61.8 735.5 L74.1 713.4 L86.4 724.7 L98.7 754.8 L111 692.9 L123.3 691.4 L135.6 633.2 L147.9 594.6 L160.2 628.4 L172.5 657.7 L184.8 650 L197 618.7 L209.3 581.4 L221.6 548.4 L233.9 542.2 L246.2 551.3 L258.5 571 L270.8 617.2 L283.1 617.3 L295.4 628 L307.7 615 L320 615.7 L332.3 630.7 L344.6 628.3 L356.9 619.3 L369.2 651.7 L381.5 656 L393.8 678.3 L406.1 636 L418.4 652.3 L430.7 650 L443 665.7 L455.3 599.3 L467.6 624.3 L479.9 617.7 L492.2 595 L504.5 595 L516.8 549.3 L529.1 544 L541.3 510.7 L553.6 443.3 L565.9 400 L578.2 360 L590.5 436.7 L602.8 515.5 L615.1 526.3 L627.4 526 L639.7 487 L652 450 L664.3 430 L676.6 380 L688.9 319.3 L701.2 317.7 L713.5 330 L725.8 302.7 L738.1 258.3 L750.4 256.7 L762.7 253.3 L775 250.7 L787.3 293.3 L799.6 304 L811.9 295.7 L824.2 350 L836.5 366 L848.8 340.7 L861.1 365 L873.4 396.7 L885.7 431.7 L897.9 406.7 L910.2 381.7 L922.5 422.7 L934.8 438.3 L947.1 397.6 L959.4 439 L971.7 450.3 L984 467.8 L996.3 474.3 L1008.6 471.9 L1020.9 462.6 L1033.2 456.5 L1045.5 442.2 L1057.8 451.8 L1070.1 434 L1082.4 422.7 L1094.7 437 L1107 451.4 L1119.3 461.2 L1131.6 463.2 L1143.9 467.3 L1156.2 460 L1168.5 455.9 L1180.8 475.3 L1193.1 449.3 L1205.4 468.8 L1217.7 473.5 L1230 452.4 L1242.2 448.7 L1254.5 454.4 L1266.8 449.3 L1279.1 446.5 L1291.4 465.2 L1303.7 449.8 L1316 461 L1328.3 442.6 L1340.6 420.1 L1352.9 393.1 L1365.2 400.7 L1377.5 396.6 L1389.8 416 L1402.1 399.6 L1414.4 367.9 L1426.7 423.2 L1439 423.8 L1451.3 419.1 L1463.6 422.2 L1475.9 405.4 L1488.2 420.1 L1500.5 386.7 L1512.8 423.2 L1525.1 464.1 L1537.4 408.4 L1549.7 420.1 L1562 394 L1574.3 385.6 L1586.6 393.3 L1598.8 393.3 L1611.1 362.3 L1623.4 344.8 L1635.7 478 L1648 549.2 L1660.3 502.9 L1672.6 464.7 L1684.9 455.4 L1697.2 514.4 L1709.5 458.9 L1721.8 409.1 L1734.1 369.8 L1746.4 336.2 L1758.7 356 L1771 375.8" fill="none" stroke="#62bc78" stroke-width="2.7" stroke-linejoin="round" stroke-linecap="round"/>
<g id="labels"><text x="1707.3" y="367.9" font-size="29" font-weight="bold" fill="#0f1a2b" text-anchor="end" textLength="67" lengthAdjust="spacingAndGlyphs">0.405</text><text x="1707.3" y="486.2" font-size="29" font-weight="bold" fill="#0f1a2b" text-anchor="end" textLength="36" lengthAdjust="spacingAndGlyphs">0.4</text><text x="1707.3" y="604.9" font-size="29" font-weight="bold" fill="#0f1a2b" text-anchor="end" textLength="67.2" lengthAdjust="spacingAndGlyphs">0.395</text><text x="1707.3" y="723.7" font-size="29" font-weight="bold" fill="#0f1a2b" text-anchor="end" textLength="52" lengthAdjust="spacingAndGlyphs">0.39</text><text x="112.3" y="856.8" font-size="29" font-weight="bold" fill="#0f1a2b" text-anchor="middle" textLength="67.3" lengthAdjust="spacingAndGlyphs">18:00</text><rect x="108.8" y="804.2" width="4.6" height="2.2" fill="#2a2f36"/><text x="554.4" y="856.8" font-size="29" font-weight="bold" fill="#0f1a2b" text-anchor="middle" textLength="69.5" lengthAdjust="spacingAndGlyphs">00:00</text><rect x="551.6" y="804.2" width="4.6" height="2.2" fill="#2a2f36"/><text x="997.1" y="856.8" font-size="29" font-weight="bold" fill="#0f1a2b" text-anchor="middle" textLength="69.5" lengthAdjust="spacingAndGlyphs">06:00</text><rect x="994.3" y="804.2" width="4.6" height="2.2" fill="#2a2f36"/><text x="1440.3" y="856.8" font-size="29" font-weight="bold" fill="#0f1a2b" text-anchor="middle" textLength="67.3" lengthAdjust="spacingAndGlyphs">12:00</text><rect x="1436.8" y="804.2" width="4.6" height="2.2" fill="#2a2f36"/></g>
<rect x="-20" y="-20" width="39.2" height="1120" fill="#66bf7b"/>
<g id="header">
<text x="50.3" y="84.8" font-size="48.5" font-weight="bold" fill="#0f1a2b" text-anchor="start" textLength="225.5" lengthAdjust="spacingAndGlyphs">XLM-USD</text>
<text x="51" y="117" font-size="25.5" font-weight="normal" fill="#3b4450" text-anchor="start" textLength="166" lengthAdjust="spacingAndGlyphs">24 Hour Chart</text>
<text x="48.9" y="220.4" font-size="96.8" font-weight="bold" fill="#0f1a2b" text-anchor="start" textLength="317.2" lengthAdjust="spacingAndGlyphs">0.4048</text>
<text x="393" y="221.8" font-size="26.3" font-weight="bold" fill="#0f1a2b" text-anchor="start" textLength="76.5" lengthAdjust="spacingAndGlyphs">3.83%</text>
<path d="M497.8 203 L513.5 226.5 L482.5 226.5 Z" fill="#61bf78"/>
</g>
<g id="stats">
<text x="1065.3" y="180.4" font-size="30.3" font-weight="bold" fill="#0f1a2b" text-anchor="middle" textLength="95" lengthAdjust="spacingAndGlyphs">0.3899</text><text x="1214" y="180.4" font-size="30.3" font-weight="bold" fill="#0f1a2b" text-anchor="middle" textLength="95" lengthAdjust="spacingAndGlyphs">0.4094</text><text x="1362.5" y="180.4" font-size="30.3" font-weight="bold" fill="#0f1a2b" text-anchor="middle" textLength="95" lengthAdjust="spacingAndGlyphs">0.3882</text><text x="1510.7" y="180.4" font-size="30.3" font-weight="bold" fill="#0f1a2b" text-anchor="middle" textLength="113" lengthAdjust="spacingAndGlyphs">93.92 M</text><text x="1659" y="180.4" font-size="30.3" font-weight="bold" fill="#0f1a2b" text-anchor="middle" textLength="113" lengthAdjust="spacingAndGlyphs">37.52 M</text>
<text x="1065.8" y="218" font-size="26" font-weight="normal" fill="#333c47" text-anchor="middle" textLength="65" lengthAdjust="spacingAndGlyphs">Open</text><text x="1215.5" y="218" font-size="26" font-weight="normal" fill="#333c47" text-anchor="middle" textLength="52" lengthAdjust="spacingAndGlyphs">High</text><text x="1362.8" y="218" font-size="26" font-weight="normal" fill="#333c47" text-anchor="middle" textLength="45" lengthAdjust="spacingAndGlyphs">Low</text><text x="1510.5" y="218" font-size="26" font-weight="normal" fill="#333c47" text-anchor="middle" textLength="37" lengthAdjust="spacingAndGlyphs">Vol</text><text x="1659.3" y="218" font-size="26" font-weight="normal" fill="#333c47" text-anchor="middle" textLength="93" lengthAdjust="spacingAndGlyphs">Vol USD</text>
</g>
<g id="brand">
<text y="37.3" font-size="25.5" font-weight="bold" fill="#111" stroke="#111" stroke-width="0.5"><tspan x="1403" textLength="102.5" lengthAdjust="spacingAndGlyphs">Powered</tspan> <tspan x="1511.8" textLength="27.8" lengthAdjust="spacingAndGlyphs">by</tspan></text>
<text y="92" font-size="38.5" font-weight="bold" fill="#0a0a0a" stroke="#0a0a0a" stroke-width="0.6"><tspan x="1450.2" textLength="170.5" lengthAdjust="spacingAndGlyphs">CoinDesk</tspan> <tspan x="1627.2" textLength="81" lengthAdjust="spacingAndGlyphs">Data</tspan></text>
<text x="1708" y="138" font-size="26.5" font-weight="normal" fill="#a9a9a9" text-anchor="end" textLength="285" lengthAdjust="spacingAndGlyphs">2 Oct 2025 16:22 (GMT)</text>
<g id="logo" fill="#0a0a0a" stroke="#0a0a0a">
<path d="M1438.8 63.3 H1408.2 V94.6 H1423.5" stroke-width="5.6" fill="none" stroke-linecap="round" stroke-linejoin="round"/>
<g stroke="none"><circle cx="1408.2" cy="63.3" r="5.9"/><circle cx="1423.5" cy="63.3" r="5.9"/><circle cx="1438.8" cy="63.3" r="5.9"/><circle cx="1408.2" cy="79.3" r="5.9"/><circle cx="1408.2" cy="94.6" r="5.9"/><circle cx="1423.5" cy="94.6" r="5.9"/>
<circle cx="1423.5" cy="79.3" r="2.4"/><circle cx="1438.8" cy="79.3" r="2.4"/><circle cx="1438.8" cy="94.6" r="2.4"/></g>
</g>
</g>
</svg>
</body></html>
